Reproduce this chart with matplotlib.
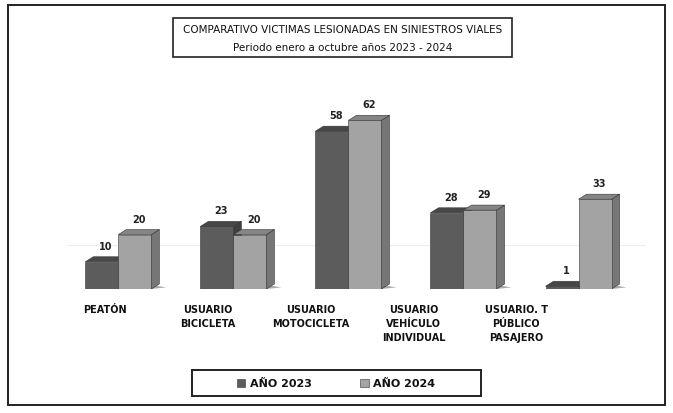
import matplotlib.pyplot as plt
import numpy as np
from matplotlib.patches import Polygon, Rectangle

categories = ["PEATÓN", "USUARIO\nBICICLETA", "USUARIO\nMOTOCICLETA",
              "USUARIO\nVEHÍCULO\nINDIVIDUAL", "USUARIO. T\nPÚBLICO\nPASAJERO"]
anio_2023 = [10, 23, 58, 28, 1]
anio_2024 = [20, 20, 62, 29, 33]
series_names = ["AÑO 2023", "AÑO 2024"]

plt.rcParams['font.family'] = ['Liberation Sans Narrow', 'DejaVu Sans']

fig = plt.figure(figsize=(6.73, 4.14), dpi=100)
ax = fig.add_axes([0.10, 0.2995, 0.86, 0.46])

x = np.arange(len(categories))
w = 0.287
dx, dy = 0.07, 1.85
face = ["#5c5c5c", "#a3a3a3"]
side = ["#3e3e3e", "#767676"]
top = ["#474747", "#858585"]

for s, vals in enumerate([anio_2023, anio_2024]):
    for i, v in enumerate(vals):
        x0 = x[i] - w + s * w
        # floor shadow
        ax.add_patch(Polygon([(x0 + w, 0), (x0 + w + 0.13, 0.6), (x0 + w + 0.03, 1.3)],
                             closed=True, color="#555555", alpha=0.5, lw=0, zorder=1))
        ax.add_patch(Polygon([(x0 + w, 0), (x0 + w + dx, dy), (x0 + w + dx, v + dy), (x0 + w, v)],
                             closed=True, fc=side[s], ec="#333333", lw=0.4, zorder=2 + s))
        ax.add_patch(Polygon([(x0, v), (x0 + dx, v + dy), (x0 + w + dx, v + dy), (x0 + w, v)],
                             closed=True, fc=top[s], ec="#333333", lw=0.4, zorder=2 + s))
        ax.add_patch(Rectangle((x0, 0), w, v, fc=face[s], ec="#333333", lw=0.4, zorder=2 + s))
        ax.text(x0 + w / 2 + dx / 2, v + dy + 2.2, str(v), ha="center", va="bottom",
                fontsize=7, fontweight="bold", color="#222222", zorder=5)

ax.axhline(16, color="#eeeeee", lw=0.8, zorder=0)
ax.plot([-0.46, 4.55], [-0.6, -0.6], color="#8a8a8a", lw=2.5, solid_capstyle="butt", zorder=6)
ax.plot([-0.46, 4.55], [-1.6, -1.6], color="#cccccc", lw=1.0, solid_capstyle="butt", zorder=6)

ax.set_xlim(-0.443, 4.587)
ax.set_ylim(0, 70)
ax.axis("off")

for i, c in enumerate(categories):
    ax.text(x[i] - 0.12 - 0.105 * i, -5.5, c, ha="center", va="top", fontsize=7,
            fontweight="bold", color="#111111", linespacing=1.5)

# title box
fig.text(0.509, 0.928, "COMPARATIVO VICTIMAS LESIONADAS EN SINIESTROS VIALES",
         ha="center", va="center", fontsize=7.5, color="#111111")
fig.text(0.509, 0.883, "Periodo enero a octubre años 2023 - 2024",
         ha="center", va="center", fontsize=7.5, color="#111111")
fig.add_artist(Rectangle((0.257, 0.860), 0.504, 0.094, transform=fig.transFigure,
                         fill=False, ec="#222222", lw=1.2))

# legend
leg_ax = fig.add_axes([0.285, 0.04, 0.43, 0.065])
leg_ax.set_xlim(0, 1)
leg_ax.set_ylim(0, 1)
leg_ax.set_xticks([])
leg_ax.set_yticks([])
for sp in leg_ax.spines.values():
    sp.set_linewidth(1.4)
    sp.set_color("#222222")
for s, name in enumerate(series_names):
    lx = 0.155 + s * 0.427
    leg_ax.add_patch(Rectangle((lx, 0.35), 0.03, 0.3, fc=face[s], ec="#333333", lw=0.4))
    leg_ax.text(lx + 0.045, 0.5, name, ha="left", va="center", fontsize=8,
                fontweight="bold", color="#111111")

# outer frame
fig.add_artist(Rectangle((0.012, 0.02), 0.976, 0.965, transform=fig.transFigure,
                         fill=False, ec="#222222", lw=1.4))

fig.savefig("out.png", dpi=100)
